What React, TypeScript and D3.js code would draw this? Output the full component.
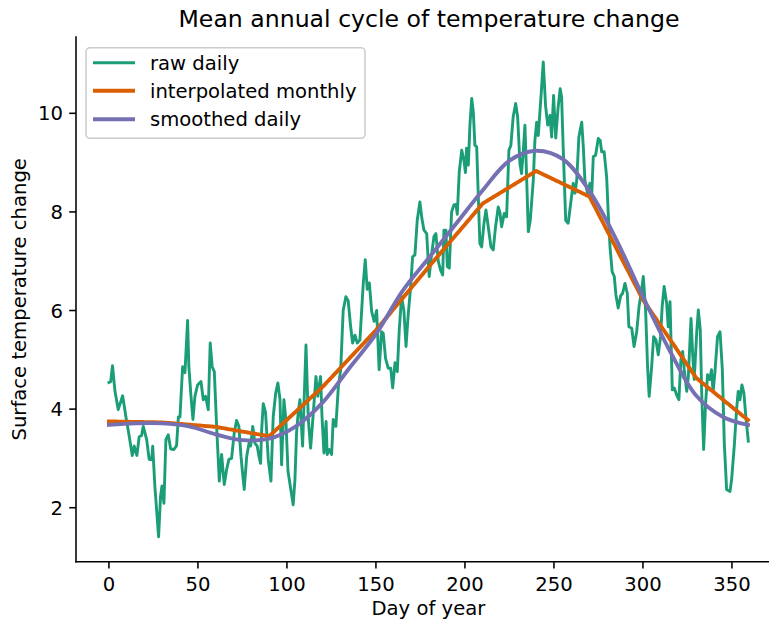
import React from "react";
import * as d3 from "d3";

const rawDay = [0,1,2,3.4,5.2,7.7,9.6,11.4,13.1,14.2,15.7,17,18.3,19.3,21.2,22.6,24,24.6,25.8,27.9,29,29.8,30.9,32,33.3,34.7,36.5,38,39,39.9,41.4,42.7,44.2,44.9,46.1,47.2,48.3,49.8,51.7,53,54.3,55.8,56.9,58,59.2,60.5,62,63.3,64.8,66.1,67.4,68.9,70.4,71.7,73,74.2,74.9,76,77.4,78.7,79.6,80.8,82,83.3,84.3,85.2,85.8,86.7,88,89.5,91,92.3,93.7,94.9,96.1,97,98.3,99.4,100.6,103.5,104.5,105.4,106.3,107.3,108.8,110.7,112,113.3,114.4,116.3,117.3,118.9,119.7,120.8,122,122.6,123.8,125.1,126,127.5,128.9,130.2,131.6,133.1,134.4,135.8,136.9,138.2,139.5,141,142.9,144,145.1,146.3,147.6,149,150.4,151.8,153.2,154.1,155.4,156.9,158.3,159.4,160.7,162,163.1,164.4,165.7,166.9,168.1,169.5,170.6,171.9,173.2,174.7,175.8,177,178.5,179.9,181.3,182.6,183.7,185,186.3,187.5,188.2,189.3,190.1,191.2,192.5,193.8,195,195.7,196.8,198.2,199.4,200.3,200.9,201.9,202.8,203.8,204.7,205.6,206.6,207.5,208.4,209.4,210.7,211.8,213.1,214.6,215.9,217.2,218.7,219.7,220.6,222.1,223.4,224.7,225.8,227.1,228.5,229.6,230.9,231.8,232.8,233.7,234.7,235.6,236.7,238.4,239.3,240.3,241.2,242.7,244,245.3,246.5,247.8,248.7,249.8,251,252.3,253.5,254.3,255.2,256.6,258,259.4,260.8,261.8,262.8,264,265.6,266.5,267.4,268.9,270.2,271.2,272.1,273.4,274.9,276,276.8,278.2,279.6,280.5,281.5,282.7,283.9,284.8,286.1,287.5,288.6,289.9,291.2,292.1,293.7,295,296.5,297.8,299,300.2,301.5,302.6,303.5,304.9,306,307.3,308.6,309.9,310.8,311.9,313.3,314.2,315.2,316.5,317.6,318.9,320.2,321.3,322.3,323.2,324.6,325.5,327,327.9,328.8,330.2,331.1,332.2,333,334.1,335.2,336.3,337.6,338.5,339.4,340.4,341.9,343.3,344.6,345.7,347,348.9,349.8,351.3,352.6,353.5,354.5,355.6,356.7,357.8,359.2];
const rawTemp = [4.54,4.56,4.88,4.36,3.99,4.27,3.83,3.45,3.06,3.25,3.06,3.44,3.46,3.65,3.38,2.98,2.97,3.25,2.44,1.41,2.23,2.44,2.09,3.38,3.48,3.19,3.18,3.26,3.84,3.84,4.86,4.74,5.8,4.86,4.26,3.79,4.26,4.49,4.56,4.19,4.26,3.99,5.34,4.86,4.76,3.65,2.54,3.08,2.47,2.77,2.98,3.0,3.52,3.77,3.65,3.04,2.77,2.37,3.04,3.31,3.25,3.65,3.31,3.25,3.04,2.9,3.58,4.11,3.93,2.98,2.54,3.85,4.33,4.53,4.2,2.87,4.19,3.79,2.74,2.06,2.57,3.52,3.92,4.19,3.25,5.3,3.79,3.21,3.72,4.66,4.26,4.66,3.85,3.11,3.75,3.08,3.18,3.08,3.79,3.65,4.46,4.8,6.0,6.28,6.2,5.67,5.34,5.5,5.34,5.4,6.56,7.03,6.43,6.56,5.98,5.78,6.0,4.8,5.57,5.54,5.03,4.83,4.83,4.43,4.94,4.76,5.61,6.28,6.0,5.27,5.9,6.48,7.09,7.13,7.83,8.2,7.87,7.63,7.56,6.69,7.15,7.5,7.56,7.0,6.82,6.72,7.63,7.63,6.89,6.86,8.0,8.14,8.15,7.95,8.81,9.25,9.05,8.8,9.29,8.95,9.76,10.3,10.03,9.35,9.32,8.31,7.36,7.29,7.77,8.04,7.7,7.29,7.23,7.7,8.1,7.98,7.7,7.97,7.9,9.25,9.35,9.93,10.2,9.93,8.98,8.78,9.25,9.76,8.65,7.6,7.83,8.65,9.45,9.82,9.55,10.33,11.04,10.15,9.76,9.96,9.52,10.36,9.5,10.1,10.5,10.33,9.3,7.83,7.77,8.17,8.58,8.38,8.64,9.52,9.82,9.32,8.64,8.38,8.58,8.31,9.12,9.15,9.49,9.45,9.22,9.22,8.71,7.97,7.29,6.79,6.69,6.32,6.05,6.3,6.35,6.55,6.35,5.67,5.64,5.27,5.57,6.08,6.35,6.69,6.0,4.86,4.26,4.86,5.47,5.4,5.1,5.47,6.08,6.49,6.15,5.67,6.18,4.39,4.43,4.29,4.19,5.0,5.17,4.8,4.36,4.66,5.84,5.14,4.6,5.54,6.01,5.61,4.33,3.18,4.12,4.7,4.6,4.8,4.36,4.73,5.47,5.57,4.8,3.31,2.37,2.33,2.57,3.25,3.99,4.36,4.19,4.49,4.33,3.85,3.35];

const monthDay = [0,30,60,90,120,150,180,210,240,270,300,330,360];
const monthTemp = [3.75,3.73,3.64,3.45,4.45,5.6,6.9,8.17,8.83,8.31,6.22,4.63,3.75];

const smoothDay = [0,15,30,45,60,75,90,105,120,135,150,165,180,195,210,225,240,255,270,285,300,315,330,345,359];
const smoothTemp = [3.68,3.71,3.71,3.65,3.49,3.37,3.40,3.65,4.13,4.83,5.52,6.40,7.08,7.76,8.44,9.04,9.24,9.07,8.42,7.44,6.28,5.19,4.27,3.84,3.68];

const xTicks = [0,50,100,150,200,250,300,350];
const yTicks = [2,4,6,8,10];

const labels = ["raw daily", "interpolated monthly", "smoothed daily"];
const colors = ["#1b9e77", "#d95f02", "#7570b3"];
const widths = [2.9, 3.9, 3.9];

const W = 769, H = 621;
const FONT = "DejaVu Sans, sans-serif";
const FS = 19.6;

export default function App() {
  const x = d3.scaleLinear().domain([-18.5, 377.5]).range([76, 780.9]);
  const y = d3.scaleLinear().domain([0.905, 11.55]).range([561.7, 36.9]);

  const monthInterp = d3.scaleLinear().domain(monthDay).range(monthTemp);
  const monthPts: [number, number][] = d3.range(0, 360).map((d) => [d, monthInterp(d)]);
  const rawPts: [number, number][] = rawDay.map((d, i) => [d, rawTemp[i]]);
  const smoothPts: [number, number][] = smoothDay.map((d, i) => [d, smoothTemp[i]]);

  const lin = d3.line<[number, number]>().x((p) => x(p[0])).y((p) => y(p[1]));
  const smooth = d3.line<[number, number]>().x((p) => x(p[0])).y((p) => y(p[1])).curve(d3.curveCatmullRom.alpha(0.5));

  const x0 = 76, yB = 561.7, yT = 36.9;
  const legendRows = [62.7, 90.7, 119.3];

  return (
    <svg width={W} height={H} style={{ position: "absolute", left: 0, top: 0, background: "#fff" }} fontFamily={FONT}>
      <rect x={0} y={0} width={W} height={H} fill="#fff" />
      <text x={429} y={26.7} fontSize={23.6} textAnchor="middle" fill="#000">Mean annual cycle of temperature change</text>

      <g strokeLinejoin="round" strokeLinecap="square" fill="none">
        <path d={lin(rawPts) || ""} stroke={colors[0]} strokeWidth={widths[0]} />
        <path d={lin(monthPts) || ""} stroke={colors[1]} strokeWidth={widths[1]} />
        <path d={smooth(smoothPts) || ""} stroke={colors[2]} strokeWidth={widths[2]} />
      </g>

      <line x1={x0} x2={x0} y1={yT} y2={yB} stroke="#000" strokeWidth={1.55} strokeLinecap="square" />
      <line x1={x0} x2={W + 5} y1={yB} y2={yB} stroke="#000" strokeWidth={1.55} strokeLinecap="square" />

      {xTicks.map((t) => (
        <g key={"x" + t}>
          <line x1={x(t)} x2={x(t)} y1={yB} y2={yB + 6.8} stroke="#000" strokeWidth={1.55} />
          <text x={x(t)} y={590.8} fontSize={FS} textAnchor="middle" fill="#000">{t}</text>
        </g>
      ))}
      {yTicks.map((t) => (
        <g key={"y" + t}>
          <line x1={x0 - 6.8} x2={x0} y1={y(t)} y2={y(t)} stroke="#000" strokeWidth={1.55} />
          <text x={63} y={y(t) + 7} fontSize={FS} textAnchor="end" fill="#000">{t}</text>
        </g>
      ))}

      <text x={428.4} y={615} fontSize={FS} textAnchor="middle" fill="#000">Day of year</text>
      <text transform={`translate(26,${(yT + yB) / 2}) rotate(-90)`} fontSize={FS} textAnchor="middle" fill="#000">Surface temperature change</text>

      <rect x={86} y={47.7} width={279} height={90.6} rx={4} ry={4} fill="#fff" fillOpacity={0.8} stroke="#cccccc" strokeWidth={1.5} />
      {labels.map((lab, i) => (
        <g key={lab}>
          <line x1={93} x2={135} y1={legendRows[i]} y2={legendRows[i]} stroke={colors[i]} strokeWidth={widths[i]} />
          <text x={150} y={legendRows[i] + 7} fontSize={FS} fill="#000">{lab}</text>
        </g>
      ))}
    </svg>
  );
}
